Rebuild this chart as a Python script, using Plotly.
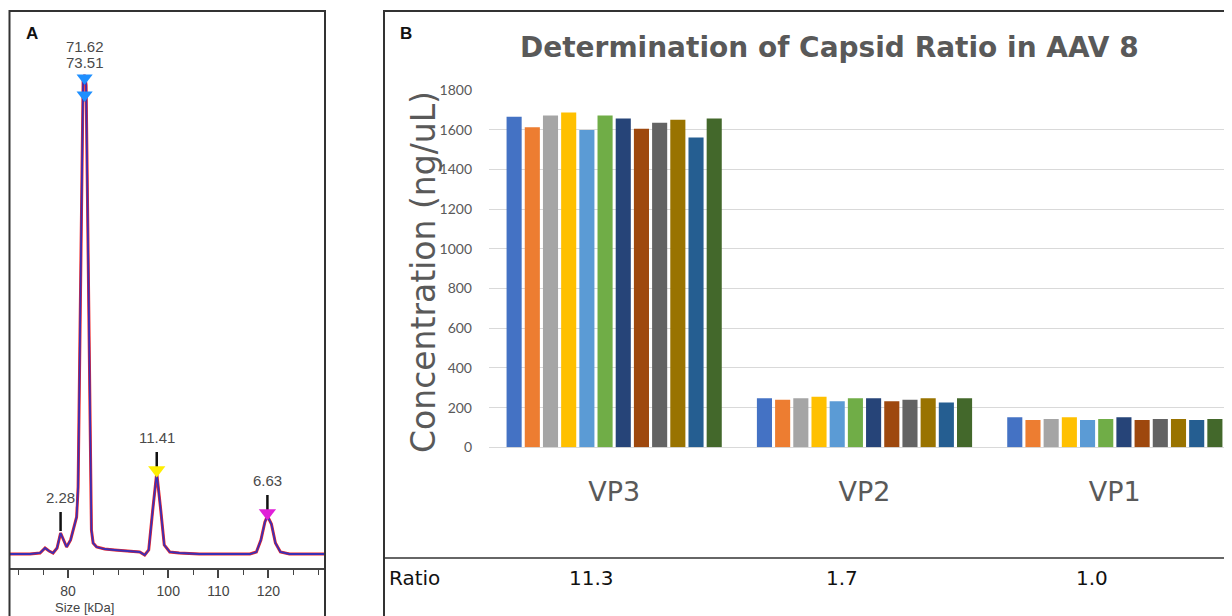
import plotly.graph_objects as go

# ---------------- data ----------------
# Panel A: electropherogram (size in kDa, signal in RFU)
ep_size_kda = [68.4, 72.4, 74.4, 75.4, 76.2, 77.0, 77.8, 78.5, 79.1, 79.7, 80.5, 81.3, 81.7,
               82.0, 83.0, 83.3, 83.6, 84.66, 85.0, 85.7, 87.3, 89.3, 92.3, 94.3, 95.3, 96.1,
               96.9, 97.7, 98.5, 99.2, 100.3, 102.2, 106.2, 112.2, 116.3, 117.6, 118.5, 119.3,
               119.8, 120.6, 121.4, 122.4, 124.2, 128.2, 131.1]
ep_signal = [14, 14, 15, 20, 17, 15, 20, 35, 28, 21, 28, 43, 51,
             81, 488, 493, 483, 38, 25, 21, 19, 18, 17, 16, 13, 18,
             58, 95, 58, 23, 16, 15, 14, 14, 14, 16, 28, 46,
             52, 44, 25, 16, 14, 14, 14]

peak_labels = ["2.28", "11.41", "6.63"]
peak_kda = [78.5, 97.7, 119.8]
peak_apex = [35, 95, 52]
peak_marker_colors = [None, "#ffee00", "#e020d8"]

main_labels = ["71.62", "73.51"]
main_kda = 83.3
main_apex = 493
main_marker_heights = [490, 473]

size_tickvals = [80, 100, 110, 120]

# Panel B: capsid protein concentrations (ng/uL), 12 replicates
categories = ["VP3", "VP2", "VP1"]
vp3_values = [1665, 1612, 1672, 1687, 1598, 1672, 1657, 1605, 1635, 1650, 1561, 1657]
vp2_values = [247, 240, 247, 255, 232, 247, 247, 232, 240, 247, 226, 247]
vp1_values = [151, 137, 143, 151, 137, 143, 151, 137, 143, 143, 137, 143]
ratios = ["11.3", "1.7", "1.0"]
bar_colors = ["#4472C4", "#ED7D31", "#A5A5A5", "#FFC000", "#5B9BD5", "#70AD47",
              "#264478", "#9E480E", "#636363", "#997300", "#255E91", "#43682B"]

# ---------------- figure ----------------
W, H = 1232, 616
OFF = 8  # page body margin


def fx(p):
    return (p - OFF) / W


def fy(p):
    return 1 - (p - OFF) / H


fig = go.Figure()

# Panel A traces
fig.add_trace(go.Scatter(x=ep_size_kda, y=ep_signal, mode="lines",
                         line=dict(color="#f02828", width=3), xaxis="x", yaxis="y",
                         showlegend=False, hoverinfo="skip"))
fig.add_trace(go.Scatter(x=ep_size_kda, y=ep_signal, mode="lines",
                         line=dict(color="#3b2fb5", width=1.8), xaxis="x", yaxis="y",
                         showlegend=False, hoverinfo="skip"))

# peak tick lines
for k, a in zip(peak_kda, peak_apex):
    fig.add_trace(go.Scatter(x=[k, k], y=[a + 2, a + 21], mode="lines",
                             line=dict(color="#111", width=2.5), xaxis="x", yaxis="y",
                             showlegend=False, hoverinfo="skip"))
# peak markers
for k, a, c in zip(peak_kda, peak_apex, peak_marker_colors):
    if c:
        fig.add_trace(go.Scatter(x=[k], y=[a + 3], mode="markers",
                                 marker=dict(symbol="triangle-down", size=15, color=c,
                                             line=dict(width=0)),
                                 xaxis="x", yaxis="y", showlegend=False, hoverinfo="skip"))
fig.add_trace(go.Scatter(x=[main_kda] * len(main_marker_heights), y=main_marker_heights,
                         mode="markers",
                         marker=dict(symbol="triangle-down", size=14, color="#1e8fff"),
                         xaxis="x", yaxis="y", showlegend=False, hoverinfo="skip"))

# Panel B bars
for i in range(len(vp3_values)):
    fig.add_trace(go.Bar(x=categories, y=[vp3_values[i], vp2_values[i], vp1_values[i]],
                         name=f"Replicate {i + 1}",
                         marker=dict(color=bar_colors[i], line=dict(width=0)),
                         xaxis="x2", yaxis="y2", showlegend=False))

annotations = []
lab_font = dict(family="Liberation Sans, Arial", size=15, color="#4a4a4a")
for lab, k, a in zip(peak_labels, peak_kda, peak_apex):
    annotations.append(dict(x=k, y=a + 21, xref="x", yref="y", text=lab, showarrow=False,
                            yanchor="bottom", yshift=5, font=lab_font,
                            bgcolor="rgba(255,255,255,0.8)", borderpad=0))
for lab, sh in zip(main_labels, [29, 13]):
    annotations.append(dict(x=main_kda, y=main_apex, xref="x", yref="y", text=lab,
                            showarrow=False, yanchor="middle", yshift=sh, font=lab_font,
                            bgcolor="rgba(255,255,255,0.8)", borderpad=0))
annotations.append(dict(x=main_kda, y=fy(599), xref="x", yref="paper", text="Size [kDa]",
                        showarrow=False, font=dict(family="Liberation Sans, Arial", size=13,
                                                   color="#444"),
                        yanchor="top", borderpad=0))
annotations.append(dict(x=fx(24), y=fy(33), xref="paper", yref="paper", text="<b>A</b>",
                        showarrow=False, xanchor="left", yanchor="middle",
                        font=dict(family="Liberation Sans, Arial", size=17, color="#111")))
annotations.append(dict(x=fx(398), y=fy(33), xref="paper", yref="paper", text="<b>B</b>",
                        showarrow=False, xanchor="left", yanchor="middle",
                        font=dict(family="Liberation Sans, Arial", size=17, color="#111")))
annotations.append(dict(x=fx(829), y=fy(47), xref="paper", yref="paper",
                        text="<b>Determination of Capsid Ratio in AAV 8</b>", showarrow=False,
                        xanchor="center", yanchor="middle",
                        font=dict(family="DejaVu Sans", size=28, color="#595959")))
annotations.append(dict(x=fx(423), y=fy(272), xref="paper", yref="paper",
                        text="Concentration (ng/uL)", showarrow=False, textangle=-90,
                        xanchor="center", yanchor="middle",
                        font=dict(family="DejaVu Sans", size=33, color="#595959")))
annotations.append(dict(x=fx(387), y=fy(578), xref="paper", yref="paper", text="Ratio",
                        showarrow=False, xanchor="left", yanchor="middle",
                        font=dict(family="DejaVu Sans", size=20, color="#111")))
for c, r in zip(categories, ratios):
    annotations.append(dict(x=c, y=fy(578), xref="x2", yref="paper", text=r, xshift=-23,
                            showarrow=False, xanchor="center", yanchor="middle",
                            font=dict(family="DejaVu Sans", size=20, color="#111")))

shapes = [
    dict(type="rect", xref="paper", yref="paper", x0=fx(9.5), x1=fx(325), y0=-0.05, y1=fy(11),
         line=dict(color="#333", width=2), layer="above"),
    dict(type="rect", xref="paper", yref="paper", x0=fx(384), x1=1.05, y0=-0.05, y1=fy(11),
         line=dict(color="#333", width=2), layer="above"),
    dict(type="line", xref="paper", yref="paper", x0=fx(384), x1=1.0, y0=fy(558), y1=fy(558),
         line=dict(color="#333", width=1.5)),
]

fig.update_layout(
    width=W, height=H, margin=dict(l=0, r=0, t=0, b=0, pad=0, autoexpand=False),
    paper_bgcolor="white", plot_bgcolor="white",
    barmode="group", bargap=0.128, bargroupgap=0.17,
    xaxis=dict(domain=[fx(10), fx(324)], range=[68.4, 131.1], anchor="y", automargin=False,
               tickvals=size_tickvals, ticks="outside", ticklen=8, tickwidth=1.5,
               tickcolor="#444", showline=True, linecolor="#444", linewidth=1.5,
               showgrid=False, zeroline=False, ticklabelstandoff=1,
               tickfont=dict(family="Liberation Sans, Arial", size=14, color="#444"),
               minor=dict(ticks="outside", ticklen=5, tickwidth=1.2, tickcolor="#444",
                          dtick=5, tick0=0, showgrid=False)),
    yaxis=dict(domain=[fy(568), fy(11)], range=[0, 557], anchor="x", visible=False,
               automargin=False),
    xaxis2=dict(domain=[fx(489), 1.0], range=[-0.5, 2.5], anchor="y2", automargin=False,
                showline=False, showgrid=False, zeroline=False, ticks="",
                ticklabelstandoff=26,
                tickfont=dict(family="DejaVu Sans", size=27, color="#595959")),
    yaxis2=dict(domain=[fy(447.3), fy(90)], range=[0, 1800], anchor="x2", dtick=200,
                automargin=False,
                showgrid=True, gridcolor="#d9d9d9", gridwidth=1, zeroline=True,
                zerolinecolor="#d9d9d9", zerolinewidth=1, showline=False, ticks="",
                ticklabelstandoff=16,
                tickfont=dict(family="Lato", size=14, color="#595959")),
    annotations=annotations, shapes=shapes,
)

fig.write_html("out.html")
